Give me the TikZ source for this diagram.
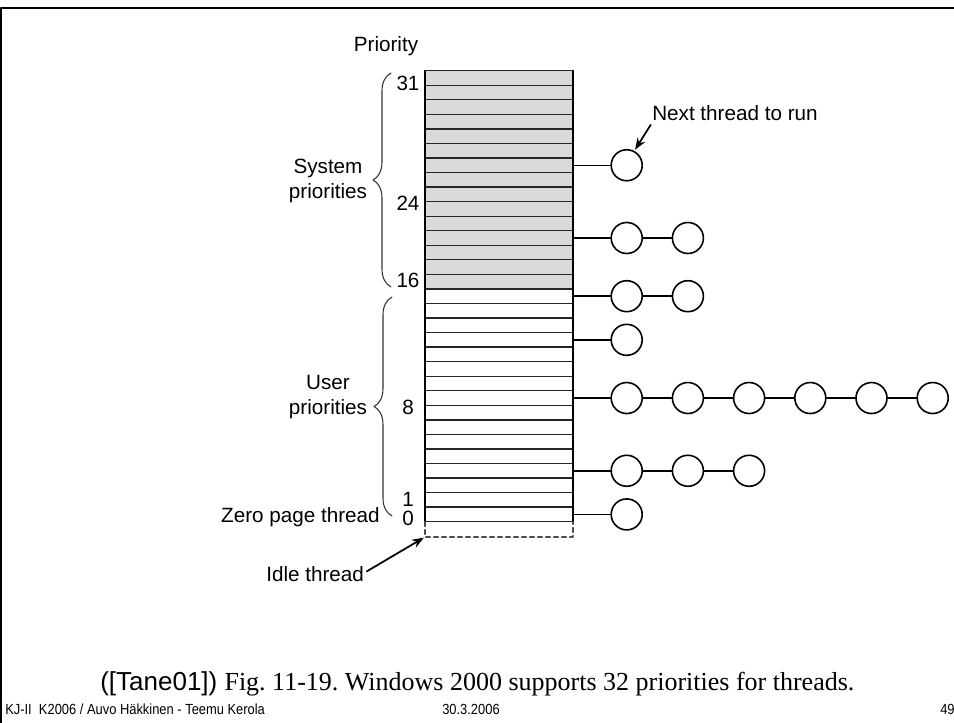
\documentclass[tikz,border=0pt]{standalone}
\usepackage{fontspec}
\setmainfont{Liberation Sans}
\newfontfamily\timesfont{Liberation Serif}
\newfontfamily\narrowfont{Liberation Sans}[FakeStretch=0.88]
\usetikzlibrary{arrows.meta}
\usetikzlibrary{decorations.pathreplacing}
\frenchspacing

\newcommand{\rowh}{14.548}

\begin{document}
\begin{tikzpicture}[x=0.75pt, y=-0.75pt, line cap=round, line join=round, >=Stealth,
  lbl/.style={font=\fontsize{15.5}{18.75}\selectfont, inner sep=0pt, align=center},
  foot/.style={inner sep=0pt, anchor=west, font=\narrowfont\fontsize{11}{13}\selectfont},
  thr/.style={circle, draw, line width=1.2pt, minimum size=23.25pt, inner sep=0pt},
  rowline/.style={line width=1pt, black!85},
  link/.style={line width=1.1pt},
  bracket/.style={decorate, decoration={brace, amplitude=13.5pt}, line width=0.8pt, black!80},
  arr/.style={->, line width=1.3pt, shorten >=1pt}]

\useasboundingbox (0,0) rectangle (954,723);

% slide frame
\draw[line width=2pt] (1,723) -- (1,8) -- (954,8);

% priority table
\fill[black!15] (425,70.7) rectangle (573,{70.7+15*\rowh});
\foreach \k in {0,...,31}
  \draw[rowline] (425,{70.7+\k*\rowh}) -- (573,{70.7+\k*\rowh});
\draw[line width=1.1pt] (425,70.7) -- (425,{70.7+31*\rowh});
\draw[line width=1.1pt] (573,70.7) -- (573,{70.7+31*\rowh});

% idle slot
\coordinate (idlecorner) at (425,537);
\draw[dashed, dash pattern=on 3.5pt off 2.5pt, line width=0.9pt, black!70]
  (425,{70.7+31*\rowh}) -- (idlecorner) -- (573,537) -- (573,{70.7+31*\rowh});

% labels
\node[lbl] (priolbl) at (386,46) {Priority};
\node[lbl] (p31) at (408,83) {31};
\node[lbl] (p24) at (408,203) {24};
\node[lbl] (p16) at (408,280) {16};
\node[lbl] (p8) at (408,407) {8};
\node[lbl] (p1) at (408,499) {1};
\node[lbl] (p0) at (408,518) {0};

\draw[bracket] (391,287) -- (391,73);
\draw[bracket] (392,516) -- (392,297);
\node[lbl] (syslbl) at (328,180.5) {System\\priorities};
\node[lbl] (usrlbl) at (328,397) {User\\priorities};
\node[lbl, anchor=east] (zerolbl) at (380,517) {Zero page thread};
\node[lbl, anchor=west] (idlelbl) at (266,574) {Idle thread};
\draw[arr] ([xshift=2pt, yshift=2pt]idlelbl.east) -- (idlecorner);

% ready queues
\foreach \r/\n in {6/1, 11/2, 15/2, 18/1, 22/6, 27/3, 30/1} {
  \pgfmathsetmacro\yy{70.7+(\r+0.5)*\rowh}
  \coordinate (e\r) at (573,\yy);
  \foreach \i in {1,...,\n}
    \node[thr] (q\r-\i) at ({626.7+(\i-1)*61.2},\yy) {};
  \draw[link] (e\r) -- (q\r-1);
  \foreach \i in {1,...,\n} {
    \pgfmathtruncatemacro\j{\i-1}
    \ifnum\i>1 \draw[link] (q\r-\j) -- (q\r-\i); \fi
  }
}

\node[lbl, anchor=west] (nextlbl) at (652,113) {Next thread to run};
\draw[arr] ([xshift=-1pt, yshift=-3pt]nextlbl.south west) -- (q6-1.62);

% caption and footer
\node[inner sep=0pt, anchor=west, font=\fontsize{19.5}{22}\selectfont] (caption) at (100,684)
  {([Tane01]) {\timesfont Fig. 11-19. Windows 2000 supports 32 priorities for threads.}};
\node[foot] (footl) at (5,709) {KJ-II\ \ K2006 / Auvo Häkkinen - Teemu Kerola};
\node[foot] (footm) at (442,709) {30.3.2006};
\node[foot] (footr) at (940,709) {49};

\end{tikzpicture}
\end{document}
